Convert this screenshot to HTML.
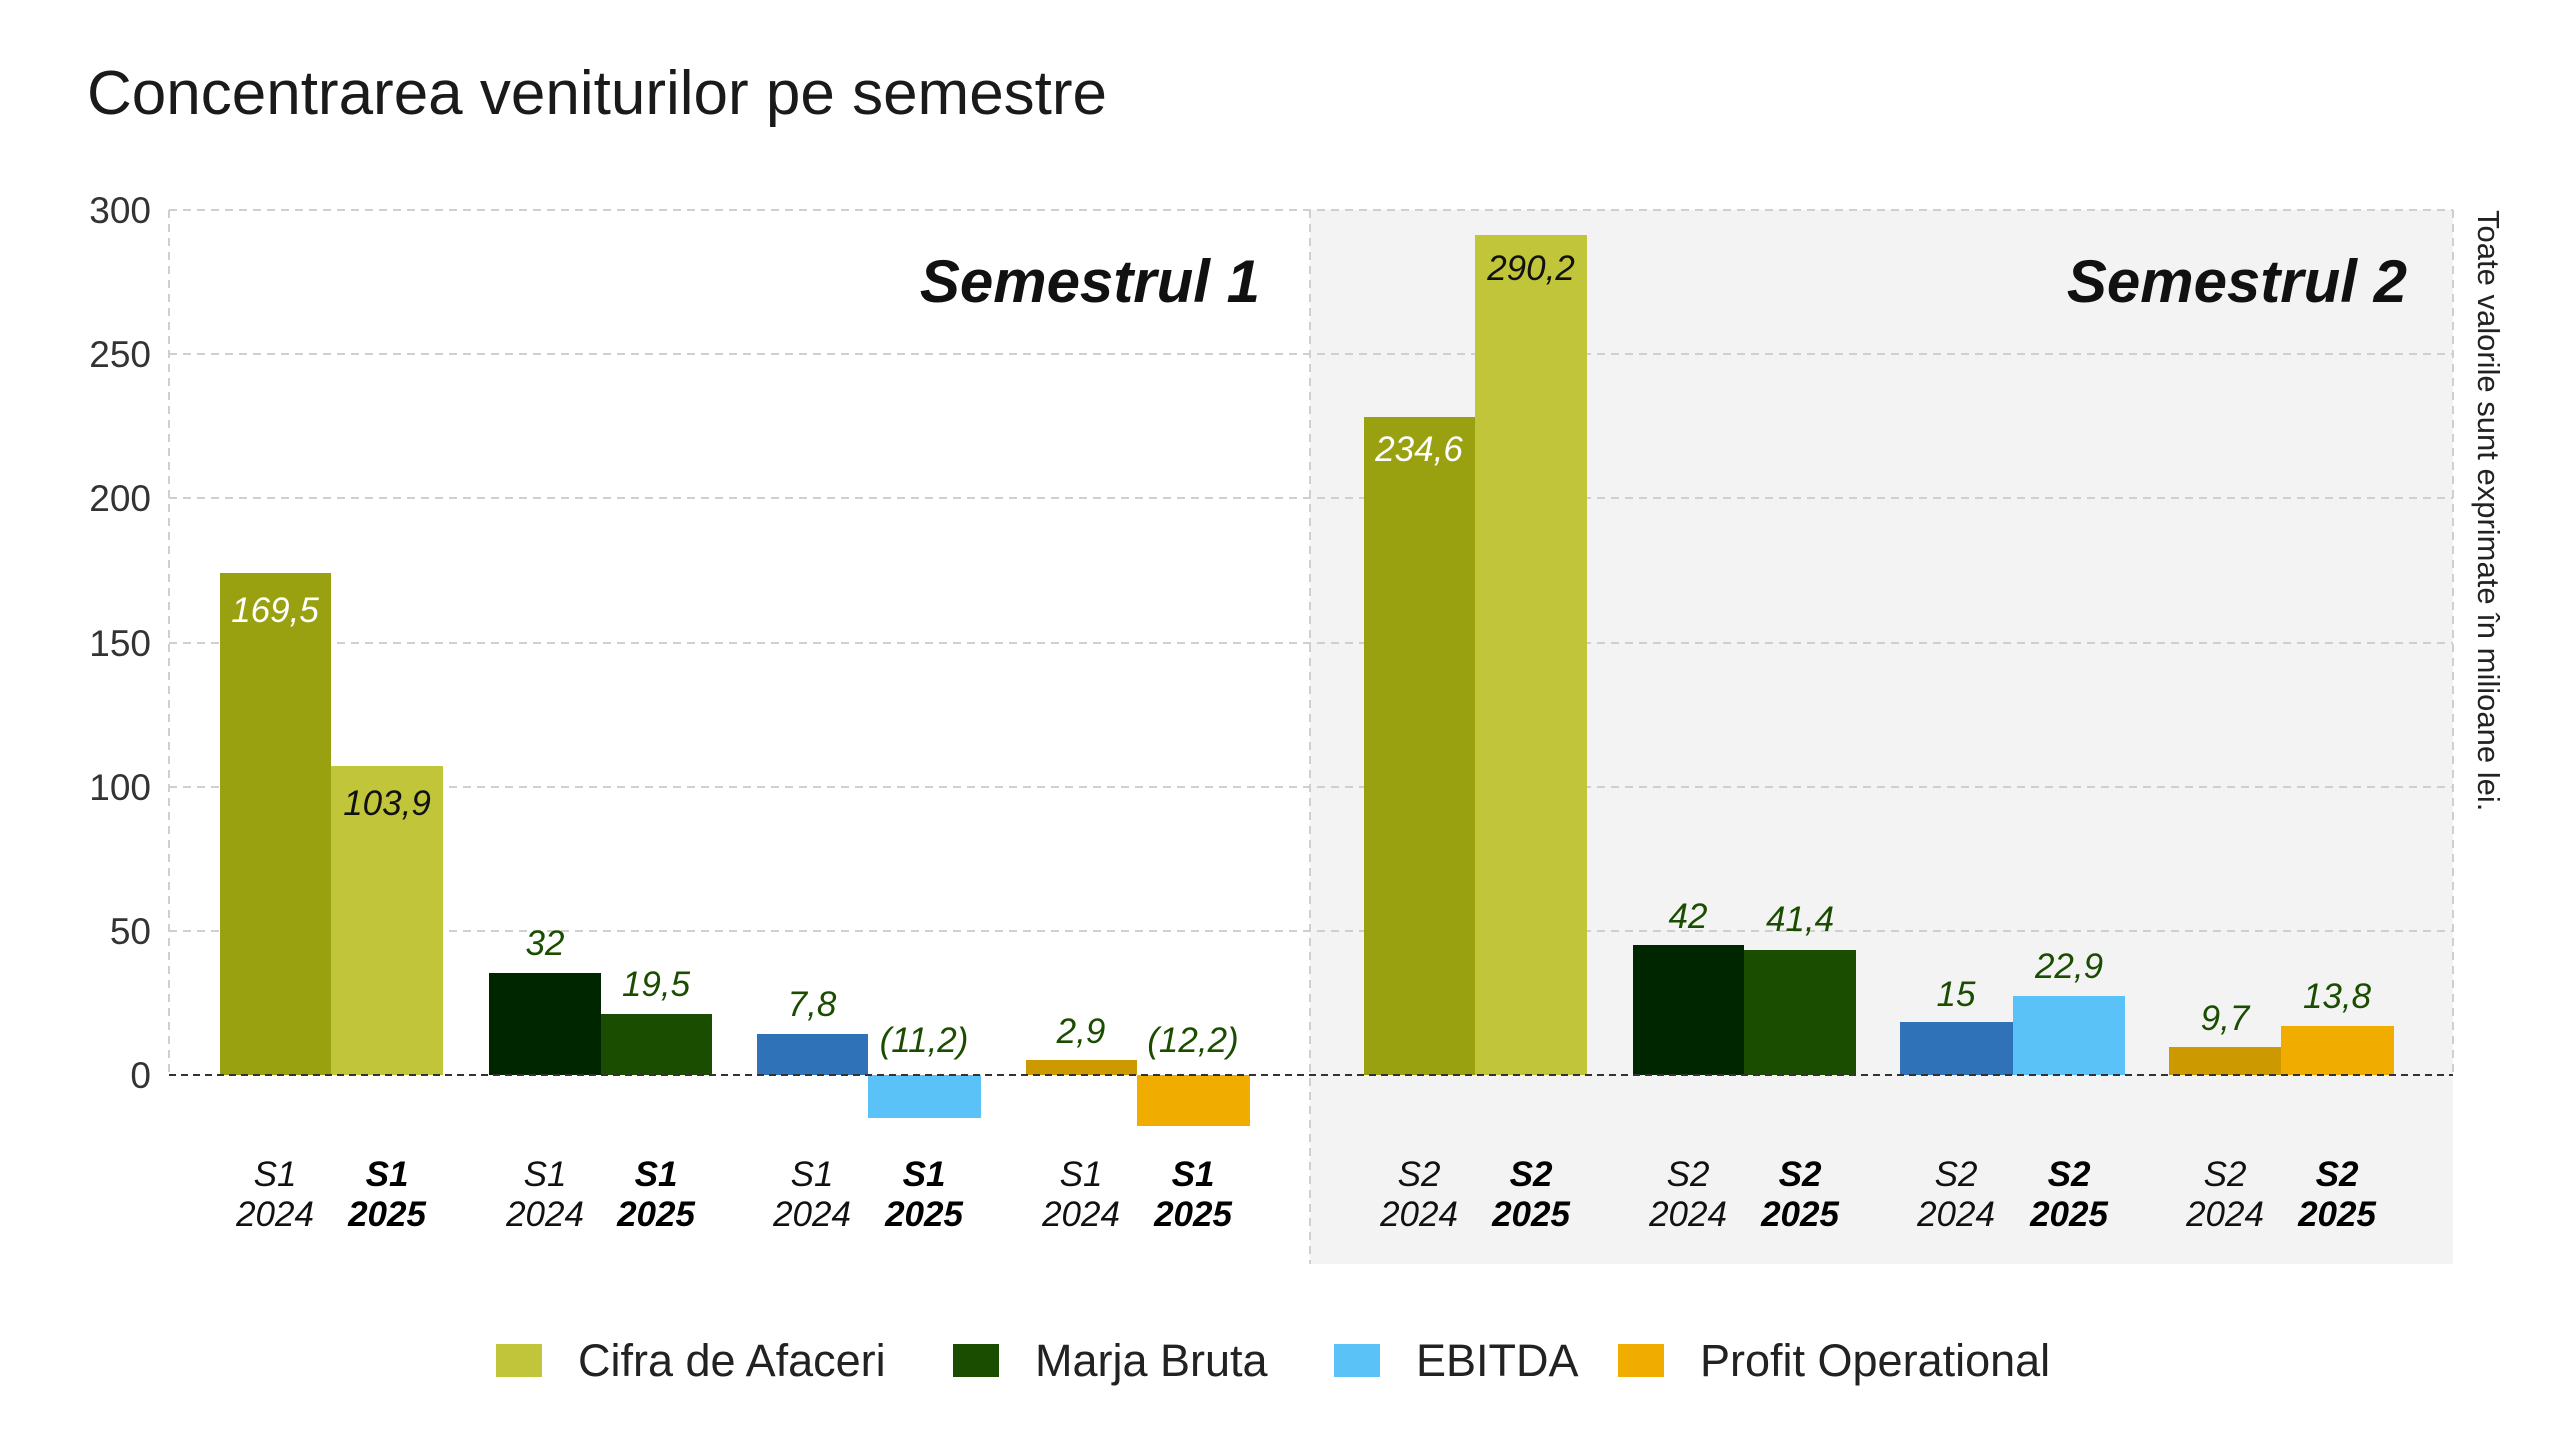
<!DOCTYPE html>
<html><head><meta charset="utf-8"><style>
html,body{margin:0;padding:0;background:#fff;}
svg{display:block;font-family:"Liberation Sans",sans-serif;}
</style></head><body>
<svg width="2560" height="1430" viewBox="0 0 2560 1430" xmlns="http://www.w3.org/2000/svg">
<rect x="0" y="0" width="2560" height="1430" fill="#fff"/>
<text x="87" y="114" font-size="62" fill="#1a1a1a">Concentrarea veniturilor pe semestre</text>
<rect x="1310" y="210" width="1143" height="1054" fill="#f3f3f3"/>
<g stroke="#cfcfcf" stroke-width="2" stroke-dasharray="8,6">
<line x1="169" y1="210" x2="2453" y2="210"/>
<line x1="169" y1="354" x2="2453" y2="354"/>
<line x1="169" y1="498" x2="2453" y2="498"/>
<line x1="169" y1="643" x2="2453" y2="643"/>
<line x1="169" y1="787" x2="2453" y2="787"/>
<line x1="169" y1="931" x2="2453" y2="931"/>
<line x1="169" y1="210" x2="169" y2="1075"/>
<line x1="1310" y1="210" x2="1310" y2="1264"/>
<line x1="2453" y1="210" x2="2453" y2="1075"/>
</g>
<g font-size="37" fill="#333" text-anchor="end">
<text x="151" y="223">300</text><text x="151" y="367">250</text><text x="151" y="511">200</text>
<text x="151" y="656">150</text><text x="151" y="800">100</text><text x="151" y="944">50</text><text x="151" y="1088">0</text>
</g>
<g>
<rect x="220" y="573" width="111" height="502" fill="#9aa111"/>
<rect x="331" y="766" width="112" height="309" fill="#c0c53a"/>
<rect x="489" y="973" width="112" height="102" fill="#002600"/>
<rect x="601" y="1014" width="111" height="61" fill="#1a4d00"/>
<rect x="757" y="1034" width="111" height="41" fill="#2f72b8"/>
<rect x="868" y="1075" width="113" height="43" fill="#5bc2f8"/>
<rect x="1026" y="1060" width="111" height="15" fill="#cc9900"/>
<rect x="1137" y="1075" width="113" height="51" fill="#f0ad00"/>
<rect x="1364" y="417" width="111" height="658" fill="#9aa111"/>
<rect x="1475" y="235" width="112" height="840" fill="#c0c53a"/>
<rect x="1633" y="945" width="111" height="130" fill="#002600"/>
<rect x="1744" y="950" width="112" height="125" fill="#1a4d00"/>
<rect x="1900" y="1022" width="113" height="53" fill="#2f72b8"/>
<rect x="2013" y="996" width="112" height="79" fill="#5bc2f8"/>
<rect x="2169" y="1047" width="112" height="28" fill="#cc9900"/>
<rect x="2281" y="1026" width="113" height="49" fill="#f0ad00"/>
</g>
<line x1="169" y1="1075" x2="2453" y2="1075" stroke="#333" stroke-width="2" stroke-dasharray="7,5"/>
<g font-size="35" font-style="italic" text-anchor="middle" fill="#1a4d00">
<text x="275" y="622" fill="#fff">169,5</text>
<text x="387" y="815" fill="#111">103,9</text>
<text x="545" y="955">32</text>
<text x="656" y="996">19,5</text>
<text x="812" y="1016">7,8</text>
<text x="924" y="1052">(11,2)</text>
<text x="1081" y="1043">2,9</text>
<text x="1193" y="1052">(12,2)</text>
<text x="1419" y="461" fill="#fff">234,6</text>
<text x="1531" y="280" fill="#111">290,2</text>
<text x="1688" y="928">42</text>
<text x="1800" y="931">41,4</text>
<text x="1956" y="1006">15</text>
<text x="2069" y="978">22,9</text>
<text x="2225" y="1030">9,7</text>
<text x="2337" y="1008">13,8</text>
</g>
<g font-size="35" font-style="italic" text-anchor="middle" fill="#111">
<text x="275" y="1186">S1</text><text x="275" y="1226">2024</text>
<text x="545" y="1186">S1</text><text x="545" y="1226">2024</text>
<text x="812" y="1186">S1</text><text x="812" y="1226">2024</text>
<text x="1081" y="1186">S1</text><text x="1081" y="1226">2024</text>
<text x="1419" y="1186">S2</text><text x="1419" y="1226">2024</text>
<text x="1688" y="1186">S2</text><text x="1688" y="1226">2024</text>
<text x="1956" y="1186">S2</text><text x="1956" y="1226">2024</text>
<text x="2225" y="1186">S2</text><text x="2225" y="1226">2024</text>
</g>
<g font-size="35" font-style="italic" font-weight="bold" text-anchor="middle" fill="#000">
<text x="387" y="1186">S1</text><text x="387" y="1226">2025</text>
<text x="656" y="1186">S1</text><text x="656" y="1226">2025</text>
<text x="924" y="1186">S1</text><text x="924" y="1226">2025</text>
<text x="1193" y="1186">S1</text><text x="1193" y="1226">2025</text>
<text x="1531" y="1186">S2</text><text x="1531" y="1226">2025</text>
<text x="1800" y="1186">S2</text><text x="1800" y="1226">2025</text>
<text x="2069" y="1186">S2</text><text x="2069" y="1226">2025</text>
<text x="2337" y="1186">S2</text><text x="2337" y="1226">2025</text>
</g>
<g font-size="60" font-style="italic" font-weight="bold" text-anchor="end" fill="#111">
<text x="1260" y="302">Semestrul 1</text>
<text x="2407" y="302">Semestrul 2</text>
</g>
<text transform="translate(2478,210) rotate(90)" font-size="31" fill="#222">Toate valorile sunt exprimate în milioane lei.</text>
<g font-size="45" fill="#222">
<rect x="496" y="1344" width="46" height="33" fill="#c0c53a"/><text x="578" y="1376">Cifra de Afaceri</text>
<rect x="953" y="1344" width="46" height="33" fill="#1a4d00"/><text x="1035" y="1376">Marja Bruta</text>
<rect x="1334" y="1344" width="46" height="33" fill="#5bc2f8"/><text x="1416" y="1376">EBITDA</text>
<rect x="1618" y="1344" width="46" height="33" fill="#f0ad00"/><text x="1700" y="1376">Profit Operational</text>
</g>
</svg>
</body></html>
